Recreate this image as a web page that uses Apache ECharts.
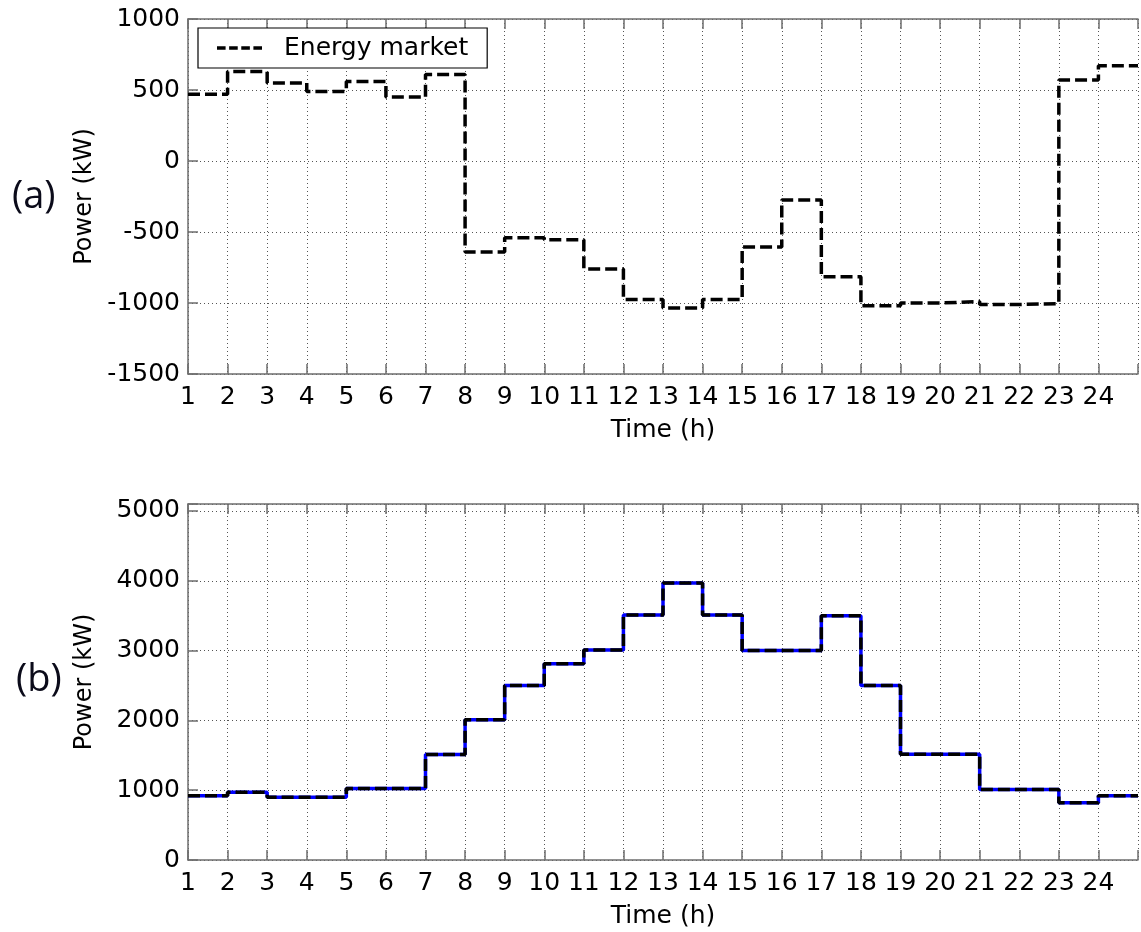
<!DOCTYPE html>
<html>
<head>
<meta charset="utf-8">
<script src="https://cdn.jsdelivr.net/npm/echarts@6/dist/echarts.min.js"></script>
<style>
  html, body { margin: 0; padding: 0; background: #fff; }
  #chart { width: 1141px; height: 932px; }
</style>
</head>
<body>
<div id="chart"></div>
<script>
// hours of the day
const hours = [1, 2, 3, 4, 5, 6, 7, 8, 9, 10, 11, 12, 13, 14, 15, 16, 17, 18, 19, 20, 21, 22, 23, 24];
// (a) energy market power, kW
const marketPower = [470, 630, 550, 490, 560, 450, 610, -640, -540, -555, -760, -975,
  -1035, -975, -605, -275, -815, -1020, -1000, -990, -1010, -1005, 570, 670];
// (b) power, kW (blue solid and black dashed overlap)
const loadPower = [920, 970, 900, 900, 1025, 1025, 1510, 2010, 2500, 2810, 3010, 3510,
  3970, 3510, 3000, 3000, 3500, 2500, 1515, 1515, 1010, 1010, 820, 920];
const ticksA = [-1500, -1000, -500, 0, 500, 1000];
const ticksB = [0, 1000, 2000, 3000, 4000, 5000];

// step lines: each hour holds its value until the next hour, last one until 25
function steps(values) {
  const pts = hours.map((h, i) => [h, values[i]]);
  pts.push([hours[hours.length - 1] + 1, values[values.length - 1]]);
  return pts;
}

const font = 'DejaVu Sans, Liberation Sans, sans-serif';
const axisGrey = '#6e6e6e';

function xAxis(gridIndex) {
  return {
    type: 'value', gridIndex: gridIndex, min: 1, max: 25, interval: 1,
    name: 'Time (h)', nameLocation: 'middle', nameGap: 44,
    nameTextStyle: {fontFamily: font, fontSize: 25, color: '#000'},
    axisLine: {onZero: false, lineStyle: {color: axisGrey, width: 1.5}},
    axisTick: {inside: true, length: 10, lineStyle: {color: axisGrey, width: 1.5}},
    axisLabel: {
      fontFamily: font, fontSize: 25, color: '#000', margin: 11,
      formatter: v => (v <= 24 ? String(v) : '')
    },
    splitLine: {show: true, lineStyle: {color: '#555', type: [1, 3], width: 1}}
  };
}

function topMirror(gridIndex) {
  return {
    type: 'value', gridIndex: gridIndex, position: 'top', min: 1, max: 25, interval: 1,
    axisLine: {onZero: false, lineStyle: {color: axisGrey, width: 1.5}},
    axisTick: {inside: true, length: 10, lineStyle: {color: axisGrey, width: 1.5}},
    axisLabel: {show: false},
    splitLine: {show: false}
  };
}

function yAxis(gridIndex, min, max, step, ticks) {
  return {
    type: 'value', gridIndex: gridIndex, min: min, max: max, interval: step,
    name: 'Power (kW)', nameLocation: 'middle', nameGap: 91,
    nameTextStyle: {fontFamily: font, fontSize: 24, color: '#000'},
    axisLine: {show: true, lineStyle: {color: axisGrey, width: 1.5}},
    axisTick: {show: true, inside: true, length: 10, lineStyle: {color: axisGrey, width: 1.5}},
    axisLabel: {
      fontFamily: font, fontSize: 25, color: '#000', margin: 8,
      formatter: v => (ticks.indexOf(v) >= 0 ? String(v) : '')
    },
    splitLine: {show: true, lineStyle: {color: '#555', type: [1, 3], width: 1}}
  };
}

const chart = echarts.init(document.getElementById('chart'), null, {renderer: 'canvas'});

// four short dashes for the legend sample
const dashIcon = 'path://M0 0H8.5V3.5H0Z M12 0H20.5V3.5H12Z M24 0H32.5V3.5H24Z M36 0H44.5V3.5H36Z';

chart.setOption({
  animation: false,
  backgroundColor: '#fff',
  grid: [
    {left: 188, top: 19, width: 963, height: 355},
    {left: 188, top: 504, width: 963, height: 356}
  ],
  graphic: [
    {type: 'text', left: 12, top: 178, style: {text: '(a)', fontFamily: 'Open Sans, sans-serif', fontSize: 38, fill: '#0b0b1a'}},
    {type: 'text', left: 16, top: 661, style: {text: '(b)', fontFamily: 'Open Sans, sans-serif', fontSize: 38, fill: '#0b0b1a'}}
  ],
  legend: {
    data: [{name: 'Energy market', icon: dashIcon}],
    left: 198, top: 28,
    padding: [7, 19, 7, 19],
    backgroundColor: '#fff',
    borderColor: '#000', borderWidth: 1.2, borderRadius: 0,
    itemWidth: 45, itemHeight: 4,
    itemStyle: {color: '#000'},
    textStyle: {fontFamily: font, fontSize: 25, color: '#000', padding: [0, 0, 0, 17], lineHeight: 26}
  },
  xAxis: [xAxis(0), xAxis(1), topMirror(0), topMirror(1)],
  yAxis: [yAxis(0, -1500, 1000, 500, ticksA), yAxis(1, 0, 5100, 1000, ticksB)],
  series: [
    {
      name: 'Energy market', type: 'line', xAxisIndex: 0, yAxisIndex: 0,
      step: 'end', symbol: 'none', data: steps(marketPower),
      lineStyle: {color: '#000', width: 3.5, type: [12, 5]},
      itemStyle: {color: '#000'}
    },
    {
      name: 'Load', type: 'line', xAxisIndex: 1, yAxisIndex: 1,
      step: 'end', symbol: 'none', data: steps(loadPower),
      lineStyle: {color: '#0000ff', width: 3.5, type: 'solid'}
    },
    {
      name: 'Load dashed', type: 'line', xAxisIndex: 1, yAxisIndex: 1,
      step: 'end', symbol: 'none', data: steps(loadPower),
      lineStyle: {color: '#000', width: 3.5, type: [12, 5]}
    }
  ]
});
</script>
</body>
</html>
